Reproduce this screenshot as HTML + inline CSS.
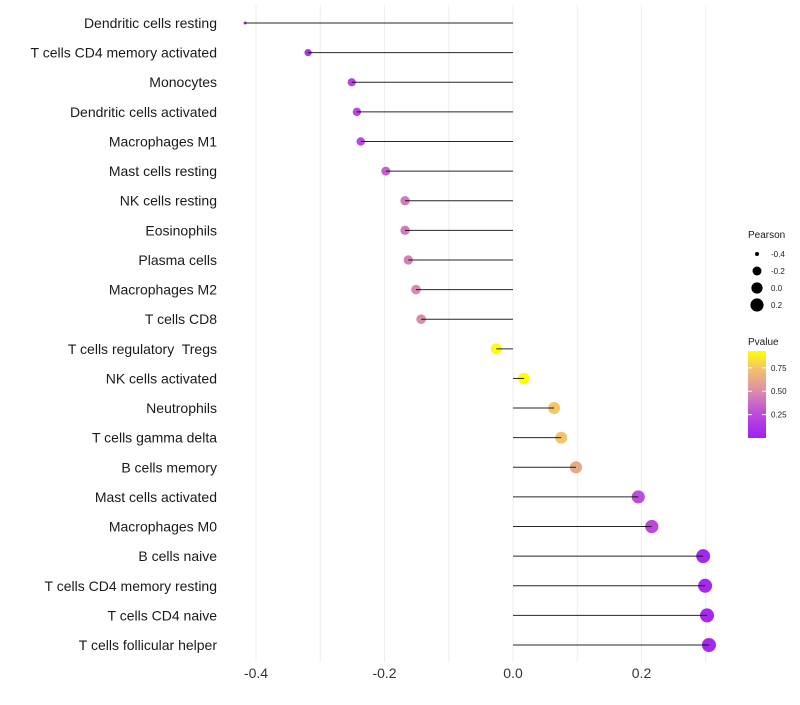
<!DOCTYPE html>
<html><head><meta charset="utf-8"><style>
body{margin:0;background:#fff;font-family:"Liberation Sans",sans-serif}
svg text{font-family:"Liberation Sans",sans-serif;white-space:pre}
</style></head><body>
<svg id="c" width="800" height="700"></svg>
<script>
const cats=["Dendritic cells resting","T cells CD4 memory activated","Monocytes","Dendritic cells activated","Macrophages M1","Mast cells resting","NK cells resting","Eosinophils","Plasma cells","Macrophages M2","T cells CD8","T cells regulatory  Tregs","NK cells activated","Neutrophils","T cells gamma delta","B cells memory","Mast cells activated","Macrophages M0","B cells naive","T cells CD4 memory resting","T cells CD4 naive","T cells follicular helper"];
const pearson=[-0.417,-0.319,-0.251,-0.243,-0.237,-0.198,-0.168,-0.168,-0.163,-0.151,-0.143,-0.026,0.017,0.064,0.075,0.098,0.195,0.216,0.296,0.299,0.302,0.305];
const pvals=[0.05,0.12,0.22,0.24,0.25,0.34,0.44,0.44,0.46,0.48,0.5,0.92,0.93,0.75,0.74,0.62,0.26,0.23,0.05,0.05,0.05,0.05];
const xTicks=[-0.4,-0.2,0.0,0.2];
const sizeBreaks=[-0.4,-0.2,0.0,0.2];
const pBreaks=[0.25,0.5,0.75];
const NS="http://www.w3.org/2000/svg";
const svg=document.getElementById('c');
function mk(t,a,p){const e=document.createElementNS(NS,t);for(const k in a)e.setAttribute(k,a[k]);(p||svg).appendChild(e);return e;}
const x=v=>513+v*642.5;
const y=i=>23+i*29.62;
const r=v=>{const a=v<-0.32?2.25+(v+0.417)*100:13+(v+0.32)*58;return Math.sqrt(Math.max(2.25,a));};
const stops=[[0,[160,32,240]],[0.3,[190,80,215]],[0.5,[215,130,180]],[0.65,[232,165,140]],[0.8,[242,195,110]],[1,[255,255,0]]];
const pmin=0,pmax=0.93;
function col(p){let t=Math.max(0,Math.min(1,(p-pmin)/(pmax-pmin)));for(let i=1;i<stops.length;i++){if(t<=stops[i][0]){const a=stops[i-1],b=stops[i];const f=(t-a[0])/(b[0]-a[0]);const c=a[1].map((v,k)=>Math.round(v+(b[1][k]-v)*f));return `rgb(${c})`;}}return 'rgb(255,255,0)';}
for(let v=-0.4;v<=0.31;v+=0.1){const g=mk('line',{x1:x(v),x2:x(v),y1:5,y2:662,stroke:'#eeeeee','stroke-width':1});

}
xTicks.forEach(v=>{const t=mk('text',{x:x(v),y:678,'font-size':14,'text-anchor':'middle',fill:'#333'});t.textContent=v.toFixed(1);

});
cats.forEach((c,i)=>{
const t=mk('text',{x:217,y:y(i)+5,'font-size':14,'text-anchor':'end',fill:'#1a1a1a'});t.textContent=c;


const d=mk('circle',{cx:x(pearson[i]),cy:y(i),r:r(pearson[i]),fill:col(pvals[i])});


const l=mk('line',{x1:x(0),x2:x(pearson[i]),y1:y(i),y2:y(i),stroke:'#000','stroke-width':1,'stroke-opacity':0.85});


});
let tt=mk('text',{x:748,y:238,'font-size':10,fill:'#1a1a1a'});tt.textContent='Pearson';


sizeBreaks.forEach((v,i)=>{const cy=254+i*17;
const d=mk('circle',{cx:757,cy:cy,r:r(v),fill:'#000'});


const t=mk('text',{x:771,y:cy+3,'font-size':8,fill:'#1a1a1a'});t.textContent=v.toFixed(1);

});
tt=mk('text',{x:748,y:345,'font-size':10,fill:'#1a1a1a'});tt.textContent='Pvalue';


const defs=mk('defs',{});const lg=mk('linearGradient',{id:'pg',x1:0,y1:1,x2:0,y2:0},defs);
for(let k=0;k<=10;k++){mk('stop',{offset:k/10,'stop-color':col(pmin+(pmax-pmin)*k/10)},lg);}
const cb=mk('rect',{x:748,y:351,width:18,height:87,fill:'url(#pg)'});


const py=p=>438-(p-pmin)/(pmax-pmin)*87;
pBreaks.forEach(p=>{mk('line',{x1:748,x2:752,y1:py(p),y2:py(p),stroke:'#fff'});mk('line',{x1:762,x2:766,y1:py(p),y2:py(p),stroke:'#fff'});
const t=mk('text',{x:771,y:py(p)+3,'font-size':8,fill:'#1a1a1a'});t.textContent=p.toFixed(2);

});
</script>
</body></html>
